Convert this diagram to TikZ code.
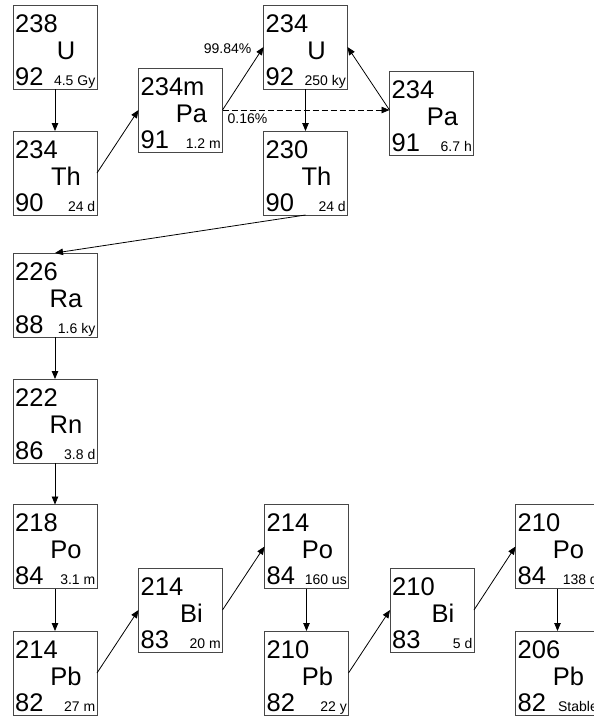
\documentclass[tikz,border=0pt]{standalone}
\usepackage{fontspec}
\setmainfont{Liberation Sans}
\usetikzlibrary{arrows.meta}
\tikzset{
  isobox/.style={draw=black!72, line width=1pt, minimum width=84pt, minimum height=84pt, inner sep=0pt, outer sep=0pt},
  bigtxt/.style={inner sep=0pt, font=\fontsize{25.5}{30}\selectfont},
  smalltxt/.style={inner sep=0pt, font=\fontsize{14}{16}\selectfont},
  decay/.style={line width=0.8pt, -{Triangle[length=8pt,width=6.5pt]}},
  branch/.style={decay, dash pattern=on 6pt off 3pt},
}
\newcommand\isonode[7]{%
  \node[isobox, anchor=north west] (#1) at (#2,#3) {};
  \node[bigtxt, anchor=base west] (#1A) at ([xshift=2pt,yshift=-27pt]#1.north west) {#4};
  \node[bigtxt, anchor=base] (#1S) at ([xshift=53pt,yshift=-54pt]#1.north west) {#5};
  \node[bigtxt, anchor=base west] (#1Z) at ([xshift=2pt,yshift=-80pt]#1.north west) {#6};
  \node[smalltxt, anchor=base east] (#1H) at ([xshift=82.5pt,yshift=-80pt]#1.north west) {#7};
}
\begin{document}
\begin{tikzpicture}[x=1pt,y=-1pt]
\useasboundingbox (0,0) rectangle (594,716);
\clip (0,0) rectangle (594,716);
\isonode{U238}{13}{5}{238}{U}{92}{4.5 Gy}
\isonode{Th234}{13}{131}{234}{Th}{90}{24 d}
\isonode{Pa234m}{138.5}{68}{234m}{Pa}{91}{1.2 m}
\isonode{U234}{263.5}{5}{234}{U}{92}{250 ky}
\isonode{Th230}{263.5}{131}{230}{Th}{90}{24 d}
\isonode{Pa234}{389.5}{71}{234}{Pa}{91}{6.7 h}
\isonode{Ra226}{13}{253}{226}{Ra}{88}{1.6 ky}
\isonode{Rn222}{13}{379}{222}{Rn}{86}{3.8 d}
\isonode{Po218}{13}{504.5}{218}{Po}{84}{3.1 m}
\isonode{Pb214}{13}{631}{214}{Pb}{82}{27 m}
\isonode{Bi214}{138.5}{568}{214}{Bi}{83}{20 m}
\isonode{Po214}{264.5}{504.5}{214}{Po}{84}{160 us}
\isonode{Pb210}{264.5}{631}{210}{Pb}{82}{22 y}
\isonode{Bi210}{390}{568}{210}{Bi}{83}{5 d}
\isonode{Po210}{515.5}{504.5}{210}{Po}{84}{138 d}
\isonode{Pb206}{515.5}{631}{206}{Pb}{82}{Stable}
\draw[decay] (U238.south) -- (Th234.north);
\draw[decay] (Th234.east) -- (Pa234m.west);
\draw[decay] (Pa234m.east) -- (U234.west);
\draw[branch] (Pa234m.east) -- ([yshift=3pt]Pa234.west);
\draw[decay] ([yshift=3pt]Pa234.west) -- (U234.east);
\draw[decay] (U234.south) -- (Th230.north);
\draw[decay] (Th230.south) -- (Ra226.north);
\draw[decay] (Ra226.south) -- (Rn222.north);
\draw[decay] (Rn222.south) -- (Po218.north);
\draw[decay] (Po218.south) -- (Pb214.north);
\draw[decay] (Pb214.east) -- (Bi214.west);
\draw[decay] (Bi214.east) -- (Po214.west);
\draw[decay] (Po214.south) -- (Pb210.north);
\draw[decay] (Pb210.east) -- (Bi210.west);
\draw[decay] (Bi210.east) -- (Po210.west);
\draw[decay] (Po210.south) -- (Pb206.north);
\node[smalltxt, anchor=base east] (pctmain) at ([xshift=-12pt,yshift=-6pt]U234.west) {99.84\%};
\node[smalltxt, anchor=base west] (pctbranch) at ([xshift=5pt,yshift=-13.3pt]Pa234m.east) {0.16\%};
\end{tikzpicture}
\end{document}
